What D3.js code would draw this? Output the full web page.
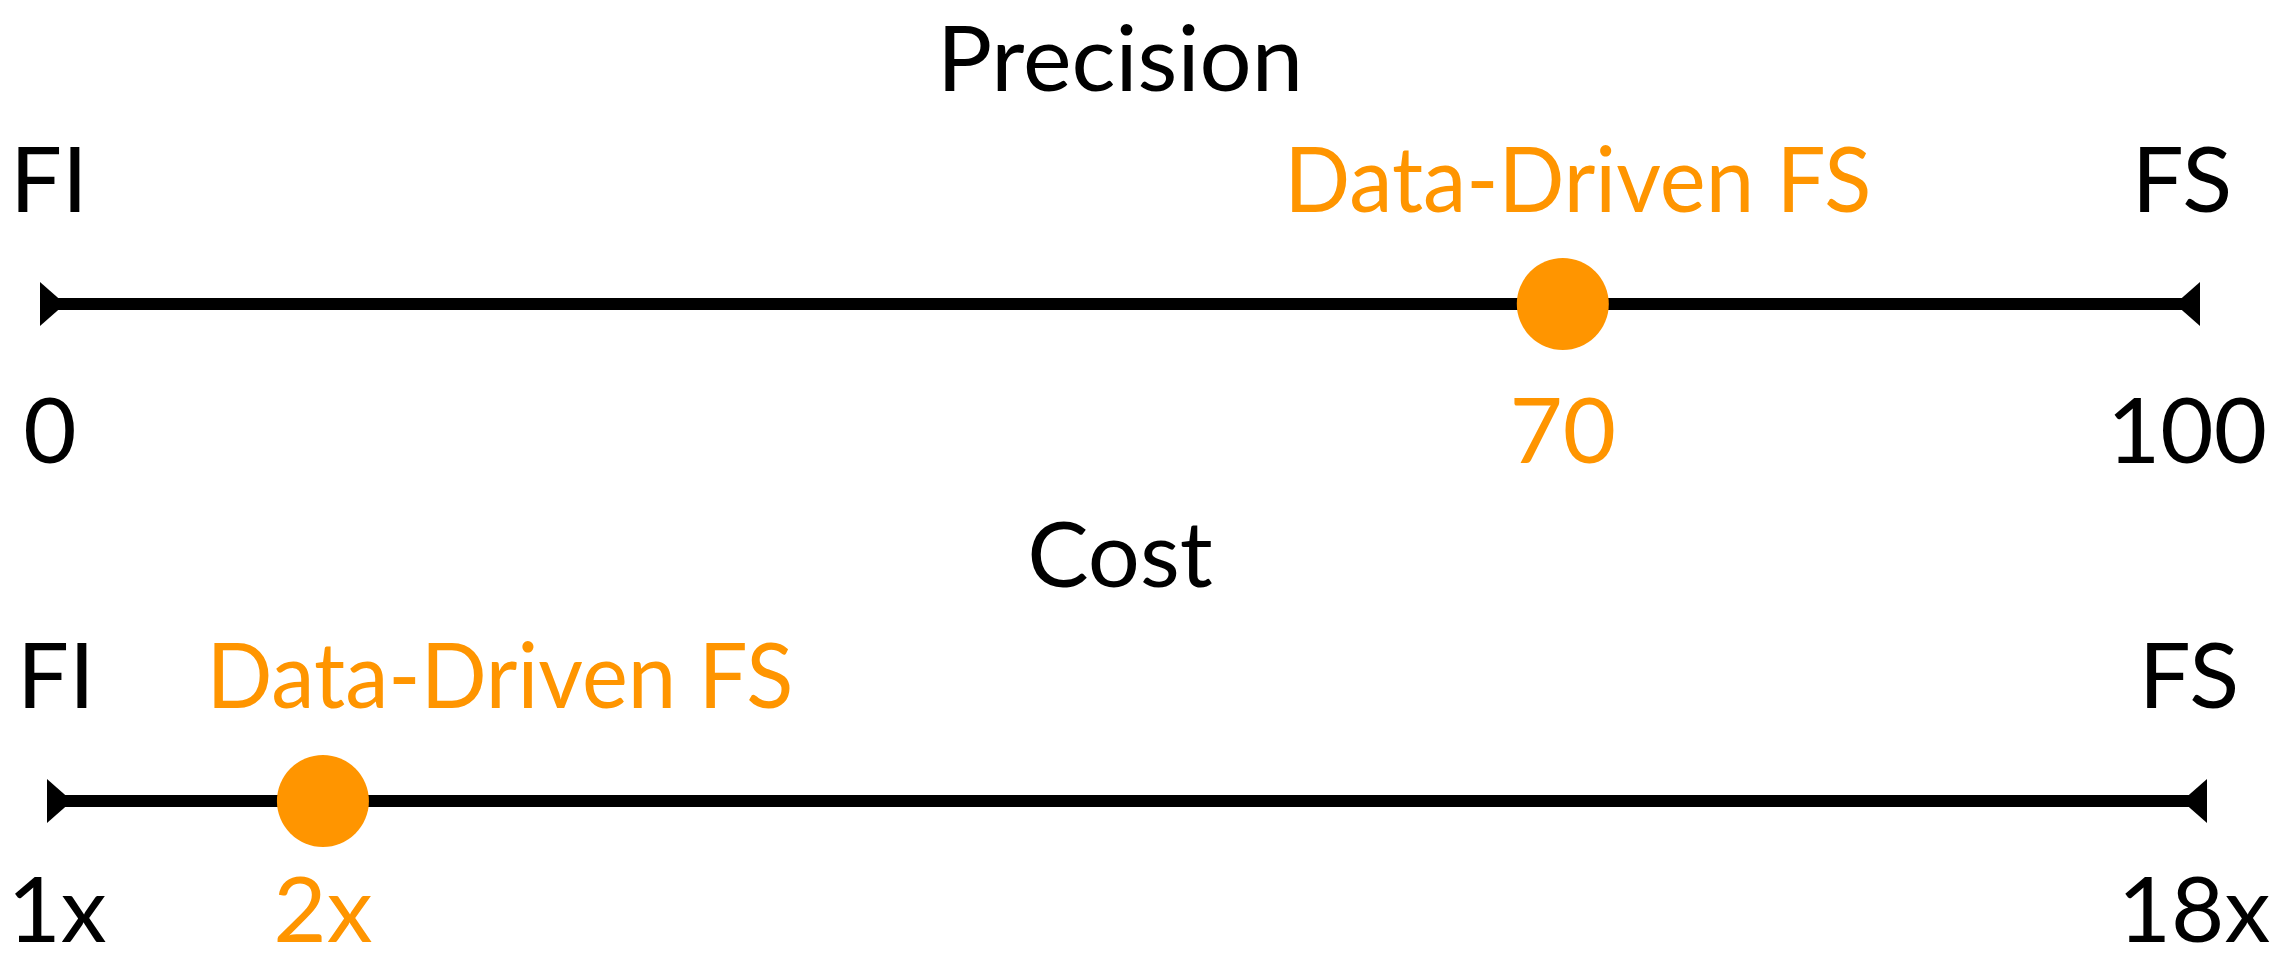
<!DOCTYPE html>
<html>
<head>
<meta charset="utf-8">
<script src="https://cdn.jsdelivr.net/npm/d3@7"></script>
<style>
  html, body { margin: 0; padding: 0; background: #ffffff; }
  svg { display: block; }
  text { font-family: Lato, "Open Sans", sans-serif; }
</style>
</head>
<body>
<div id="chart"></div>
<script>
// Two one-dimensional comparison axes
const axisTitles = ["Precision", "Cost"];
const leftEndLabels = ["FI", "FI"];
const rightEndLabels = ["FS", "FS"];
const pointLabels = ["Data-Driven FS", "Data-Driven FS"];
const pointValues = [70, 2];

const precisionDomain = [0, 100];
const precisionTicks = [0, 70, 100];
const precisionTickLabels = ["0", "70", "100"];

const costDomain = [1, 18];
const costTicks = [1, 2, 18];
const costTickLabels = ["1x", "2x", "18x"];

const W = 2280, H = 962;
const black = "#000000";
const orange = "#FF9500";
const fontSize = 92;

const svg = d3.select("#chart").append("svg")
  .attr("width", W).attr("height", H);

// Per-axis layout
const panels = [
  {
    scale: d3.scaleLinear().domain(precisionDomain).range([48, 2212]),
    line: [40, 2200],
    lineY: 304, titleY: 91, endY: 212, tickY: 463,
    ticks: precisionTicks, tickLabels: precisionTickLabels,
    pointLabelDx: 15
  },
  {
    scale: d3.scaleSqrt().domain(costDomain).range([47, 2207]),
    line: [47, 2207],
    lineY: 801, titleY: 587, endY: 708, tickY: 942,
    ticks: costTicks, tickLabels: costTickLabels,
    pointLabelDx: 177
  }
];

panels.forEach((p, i) => {
  const g = svg.append("g");
  const x = p.scale;
  const [l0, l1] = p.line;
  const y = p.lineY;
  const value = pointValues[i];

  const label = (tx, ty, str, color) => g.append("text")
    .attr("x", tx).attr("y", ty)
    .attr("text-anchor", "middle")
    .attr("font-size", fontSize).attr("fill", color)
    .text(str);

  // title and end labels
  label(W / 2 - 20, p.titleY, axisTitles[i], black);
  label(l0 + 9, p.endY, leftEndLabels[i], black);
  label(l1 - 18, p.endY, rightEndLabels[i], black);

  // axis line
  g.append("line")
    .attr("x1", l0 + 12).attr("x2", l1 - 12)
    .attr("y1", y).attr("y2", y)
    .attr("stroke", black).attr("stroke-width", 12);

  // arrowheads at both ends, pointing inward
  const head = 22, depth = 25;
  g.append("path")
    .attr("d", `M${l0},${y - head}L${l0 + depth},${y}L${l0},${y + head}Z`)
    .attr("fill", black);
  g.append("path")
    .attr("d", `M${l1},${y - head}L${l1 - depth},${y}L${l1},${y + head}Z`)
    .attr("fill", black);

  // point
  g.append("circle")
    .attr("cx", x(value)).attr("cy", y).attr("r", 46)
    .attr("fill", orange);

  // point label
  label(x(value) + p.pointLabelDx, p.endY, pointLabels[i], orange)
    .attr("textLength", 587)
    .attr("lengthAdjust", "spacingAndGlyphs");

  // tick labels: the ends sit at the line ends, inner ticks at their value
  const n = p.ticks.length;
  g.selectAll("text.tick")
    .data(p.ticks)
    .join("text")
    .attr("class", "tick")
    .attr("x", (d, j) => j === 0 ? l0 + 10 : j === n - 1 ? l1 - 13 : x(d))
    .attr("y", p.tickY)
    .attr("text-anchor", "middle")
    .attr("font-size", fontSize)
    .attr("fill", d => d === value ? orange : black)
    .text((d, j) => p.tickLabels[j]);
});
</script>
</body>
</html>
